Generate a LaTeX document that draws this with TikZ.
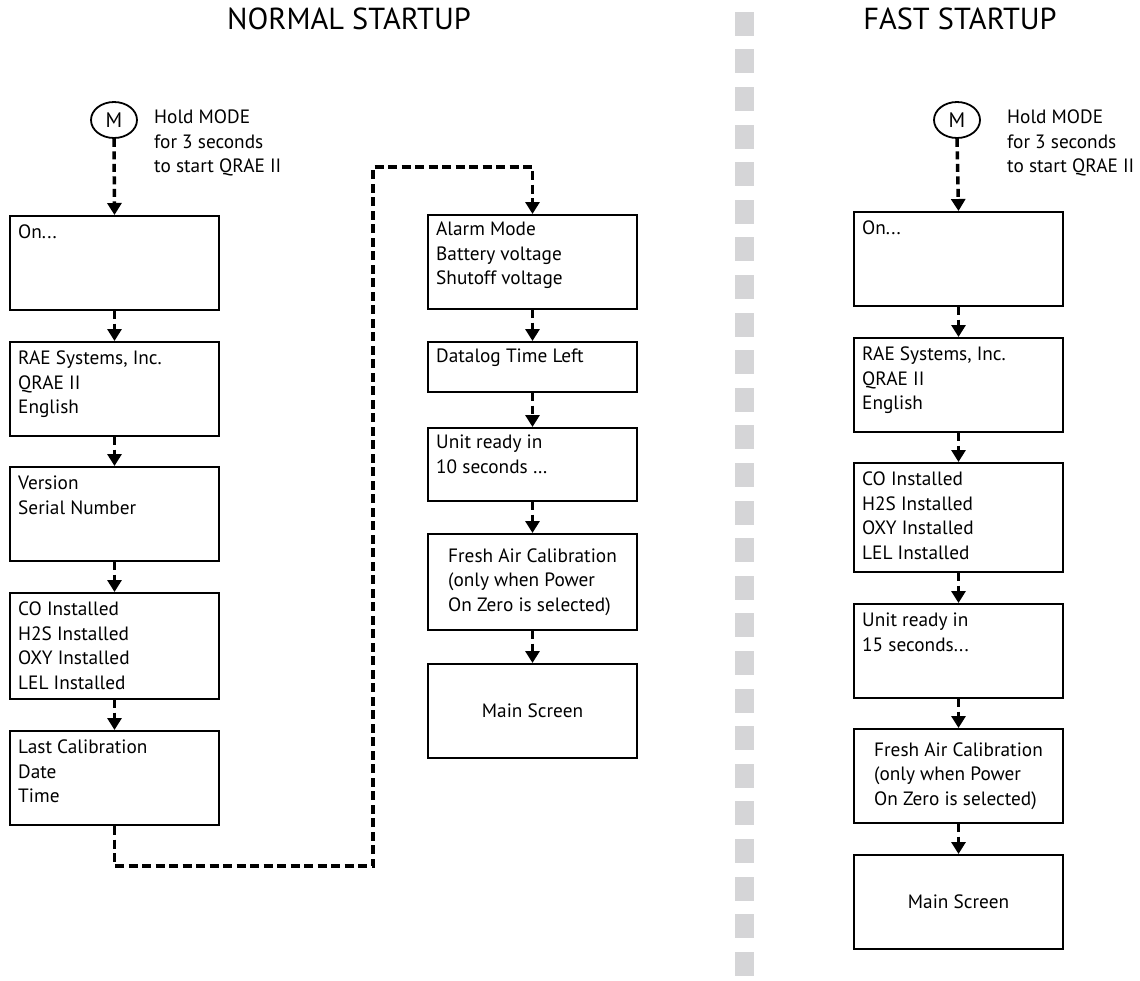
\documentclass[tikz,border=0pt]{standalone}
\usepackage{fontspec}
\setmainfont{PT Sans}
\usetikzlibrary{arrows.meta,shapes.geometric}
\definecolor{sepgray}{HTML}{D5D5D7}
\begin{document}
\begin{tikzpicture}[x=1pt,y=-1pt,
  txtfont/.style={font=\fontsize{19.3}{24.5}\selectfont},
  box/.style={draw, line width=2pt, minimum width=209pt, inner sep=0pt, anchor=north west, txtfont},
  boxtext/.style={anchor=north west, align=left, inner sep=0pt, txtfont},
  holdtext/.style={anchor=north west, align=left, inner sep=0pt, txtfont},
  title/.style={font=\fontsize{30.4}{32}\selectfont, inner sep=0pt},
  mcircle/.style={draw, ellipse, line width=1.8pt, minimum width=46pt, minimum height=36pt, inner sep=0pt, font=\fontsize{21}{24}\selectfont},
  conn/.style={line width=3.5pt, dash pattern=on 8pt off 4.5pt, -{Triangle[width=14pt,length=12pt]}},
  connpath/.style={line width=3.5pt, dash pattern=on 9pt off 4.5pt, -{Triangle[width=14pt,length=12pt]}}
]
\useasboundingbox (0,0) rectangle (1140,980);
\fill[white] (0,0) rectangle (1140,980);

% separator
\foreach \k in {0,...,25}
  \fill[sepgray] (735,{11.7+37.6*\k}) rectangle ++(19,24);

% titles
\node[title] (tn) at (349,19) {NORMAL STARTUP};
\node[title] (tf) at (960,19) {FAST STARTUP};

% ---------- normal startup ----------
\node[mcircle] (m1) at (114,120) {M};
\node[holdtext] (h1) at (154,110) {Hold MODE\\for 3 seconds\\to start QRAE II};

\node[box, minimum height=94pt] (L1) at (9,215) {};
\node[box, minimum height=94pt] (L2) at (9,341) {};
\node[box, minimum height=94pt] (L3) at (9,466) {};
\node[box, minimum height=106pt] (L4) at (9,592) {};
\node[box, minimum height=94pt] (L5) at (9,730) {};

\node[boxtext] (L1t) at ([xshift=9pt,yshift=-10pt]L1.north west) {On...};
\node[boxtext] (L2t) at ([xshift=9pt,yshift=-10pt]L2.north west) {RAE Systems, Inc.\\QRAE II\\English};
\node[boxtext] (L3t) at ([xshift=9pt,yshift=-10pt]L3.north west) {Version\\Serial Number};
\node[boxtext] (L4t) at ([xshift=9pt,yshift=-10pt]L4.north west) {CO Installed\\H2S Installed\\OXY Installed\\LEL Installed};
\node[boxtext] (L5t) at ([xshift=9pt,yshift=-10pt]L5.north west) {Last Calibration\\Date\\Time};

\node[box, minimum height=94pt] (M1) at (427,214) {};
\node[box, minimum height=50pt] (M2) at (427,341) {};
\node[box, minimum height=73pt] (M3) at (427,427) {};
\node[box, minimum height=96pt, align=left] (M4) at (427,533) {Fresh Air Calibration\\(only when Power\\On Zero is selected)};
\node[box, minimum height=94pt] (M5) at (427,663) {Main Screen};

\node[boxtext] (M1t) at ([xshift=9pt,yshift=-8pt]M1.north west) {Alarm Mode\\Battery voltage\\Shutoff voltage};
\node[boxtext] (M2t) at ([xshift=9pt,yshift=-8pt]M2.north west) {Datalog Time Left};
\node[boxtext] (M3t) at ([xshift=9pt,yshift=-8pt]M3.north west) {Unit ready in\\10 seconds \dots};

\draw[conn] (m1.south) -- (L1.north);
\draw[conn] (L1.south) -- (L2.north);
\draw[conn] (L2.south) -- (L3.north);
\draw[conn] (L3.south) -- (L4.north);
\draw[conn] (L4.south) -- (L5.north);

\coordinate (cA) at (373,866);
\coordinate (cB) at (373,167);
\draw[connpath] (L5.south) |- (cA) -- (cB) -| (M1.north);

\draw[conn] (M1.south) -- (M2.north);
\draw[conn] (M2.south) -- (M3.north);
\draw[conn] (M3.south) -- (M4.north);
\draw[conn] (M4.south) -- (M5.north);

% ---------- fast startup ----------
\node[mcircle] (m2) at (957,120) {M};
\node[holdtext] (h2) at (1007,110) {Hold MODE\\for 3 seconds\\to start QRAE II};

\node[box, minimum height=94pt] (R1) at (853,211) {};
\node[box, minimum height=94pt] (R2) at (853,337) {};
\node[box, minimum height=109pt] (R3) at (853,462) {};
\node[box, minimum height=94pt] (R4) at (853,603) {};
\node[box, minimum height=94pt, align=left] (R5) at (853,728) {Fresh Air Calibration\\(only when Power\\On Zero is selected)};
\node[box, minimum height=94pt] (R6) at (853,854) {Main Screen};

\node[boxtext] (R1t) at ([xshift=9pt,yshift=-10pt]R1.north west) {On...};
\node[boxtext] (R2t) at ([xshift=9pt,yshift=-10pt]R2.north west) {RAE Systems, Inc.\\QRAE II\\English};
\node[boxtext] (R3t) at ([xshift=9pt,yshift=-10pt]R3.north west) {CO Installed\\H2S Installed\\OXY Installed\\LEL Installed};
\node[boxtext] (R4t) at ([xshift=9pt,yshift=-10pt]R4.north west) {Unit ready in\\15 seconds...};

\draw[conn] (m2.south) -- (R1.north);
\draw[conn] (R1.south) -- (R2.north);
\draw[conn] (R2.south) -- (R3.north);
\draw[conn] (R3.south) -- (R4.north);
\draw[conn] (R4.south) -- (R5.north);
\draw[conn] (R5.south) -- (R6.north);
\end{tikzpicture}
\end{document}
